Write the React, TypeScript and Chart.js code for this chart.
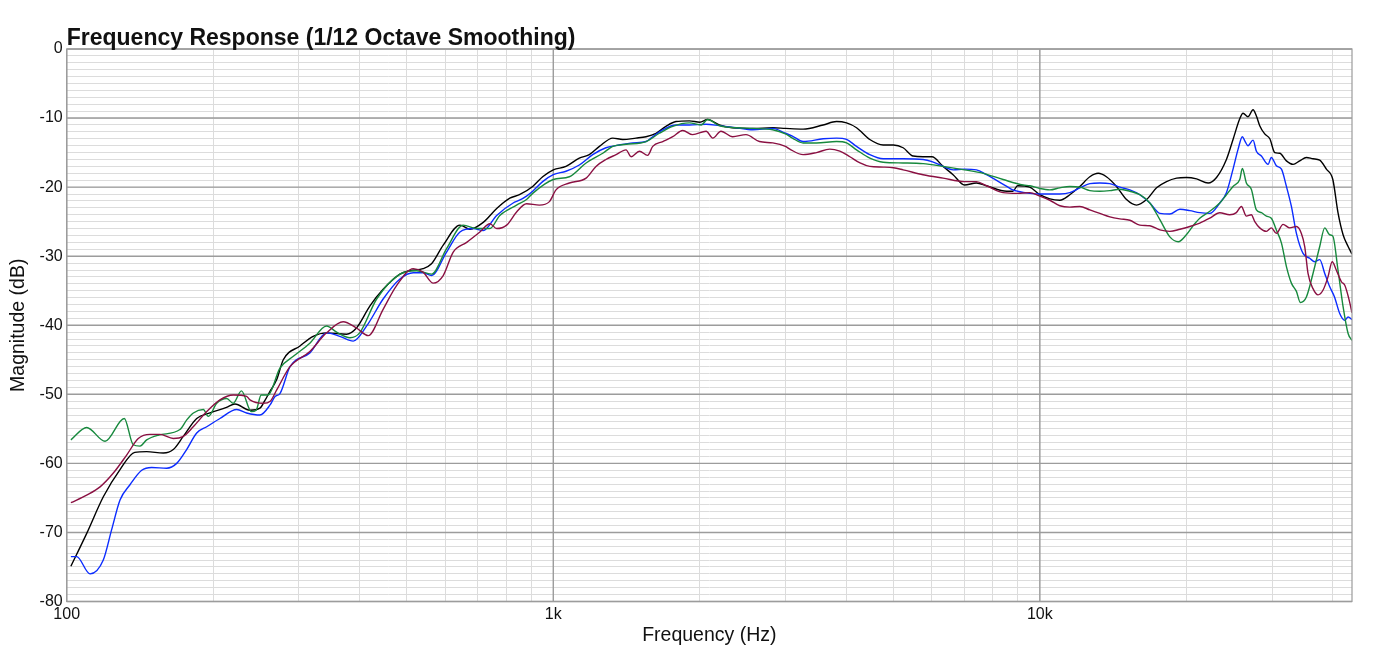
import { useEffect, useRef } from 'react';
import { Chart, registerables } from 'chart.js';

Chart.register(...registerables);

// grid frequencies (Hz) and their labels
const xGridFreqs = [
  100, 200, 300, 400, 500, 600, 700, 800, 900,
  1000, 2000, 3000, 4000, 5000, 6000, 7000, 8000, 9000,
  10000, 20000, 30000, 40000,
];
const xTickLabels: Record<number, string> = { 100: '100', 1000: '1k', 10000: '10k' };
const xMin = 100;
const xMax = 43800;
const yMin = -80;
const yMax = 0;

const blackFreq = [
  102, 110, 119, 128.7, 138, 146, 158, 165.6, 173.6, 185, 197, 213, 221.7, 238, 249.5, 255, 262, 270, 278.7,
  301.6, 321, 342, 376, 394, 420, 447, 484, 507, 540, 562, 594, 643, 674, 718, 765, 814, 852, 907, 951,
  1000, 1062, 1131, 1186, 1244, 1325, 1389, 1479, 1551, 1626, 1704, 1787, 1904, 2000, 2076, 2193, 2337,
  2570, 2825, 3000, 3262, 3586, 3820, 4006, 4200, 4472, 4764, 5000, 5236, 5490, 5754, 6000, 6324, 6632,
  7000, 7407, 7768, 8551, 8800, 9000, 9528, 10000, 10484, 10990, 11524, 12082, 12668, 13180, 13700, 14370,
  15070, 15800, 16570, 17370, 18210, 19100, 20000, 20990, 22170, 23070, 24176, 24946, 25749, 26154, 26779,
  27422, 27860, 28303, 28980, 29690, 30390, 31117, 32114, 33142, 34199, 35296, 36421, 37596, 38801, 40000,
  40990, 41990, 43000, 43800,
];
const blackDb = [
  -74.9, -70.1, -64.8, -60.9, -58.4, -58.3, -58.5, -58.0, -56.1, -53.5, -52.7, -51.9, -51.4, -52.3, -52.0, -51.0, -49.5, -47.9, -45.0,
  -43.0, -41.6, -41.1, -41.3, -40.4, -37.2, -34.8, -32.6, -32.1, -31.8, -31.1, -28.4, -25.5, -26.1, -25.1, -23.1, -21.6, -21.1, -19.9, -18.5,
  -17.5, -17.0, -15.8, -15.3, -14.1, -12.9, -13.1, -12.9, -12.7, -12.2, -11.2, -10.5, -10.4, -10.6, -10.2, -11.0, -11.4,
  -11.5, -11.4, -11.5, -11.6, -11.0, -10.5, -10.7, -11.4, -13.1, -13.9, -13.9, -14.3, -15.5, -15.6, -15.6, -17.0, -18.2,
  -19.7, -19.4, -19.8, -20.6, -20.6, -19.8, -20.0, -21.1, -21.7, -21.9, -21.1, -19.9, -18.5, -18.0, -18.5, -19.9,
  -21.8, -22.6, -21.8, -20.1, -19.2, -18.7, -18.6, -18.8, -19.4, -18.6, -16.0, -13.1, -10.1, -9.3, -9.8,
  -8.8, -9.7, -11.1, -12.3, -13.0, -15.0, -15.1, -16.2, -16.7, -16.2, -15.7, -15.9, -16.1, -17.4, -18.9,
  -23.7, -26.9, -28.6, -29.7,
];

const blueFreq = [
  102, 104.8, 111.7, 118.9, 123.7, 128.7, 134.9, 142.6, 149.5, 160.5, 168.3, 176.4, 185, 194, 206.5, 223.6,
  234.3, 249.5, 262, 268, 274.3, 287.7, 316, 342, 364, 388, 413.5, 447, 484, 515.6, 540, 562, 603.6, 643,
  685, 718, 765, 827, 852, 881, 907, 951, 1000, 1062, 1131, 1205, 1283, 1367, 1457, 1551, 1601, 1679, 1787,
  1904, 2061, 2193, 2375, 2570, 2825, 3000, 3100, 3262, 3586, 3820, 4006, 4200, 4472, 4764, 5236, 5754,
  6000, 6324, 6632, 7000, 7407, 7768, 8551, 8800, 9000, 9528, 10000, 10990, 11524, 12082, 12668, 13282,
  13926, 14600, 15308, 16050, 16828, 17644, 18499, 19396, 20336, 21313, 22345, 23428, 24176, 24946, 25550,
  26070, 26370, 26779, 27422, 27860, 28530, 29440, 29900, 30620, 31370, 32114, 32880, 33670, 34740, 35850,
  36710, 37596, 38500, 39400, 40320, 41326, 42330, 43000, 43800,
];
const blueDb = [
  -73.5, -73.5, -76.0, -74.0, -69.6, -65.3, -63.1, -61.0, -60.6, -60.7, -60.0, -58.0, -55.6, -54.7, -53.5, -52.2,
  -52.7, -53.0, -51.5, -50.3, -49.9, -46.0, -44.0, -41.1, -41.6, -42.3, -40.1, -36.2, -33.3, -32.4, -32.4, -32.8, -29.4, -26.5,
  -26.0, -26.3, -24.1, -22.3, -21.9, -21.3, -20.6, -19.2, -18.2, -17.7, -16.8, -15.3, -14.3, -13.9, -13.6, -13.4, -12.7, -11.7, -11.0,
  -11.0, -10.9, -11.1, -11.4, -11.7, -11.5, -12.2, -12.6, -13.4, -13.0, -12.9, -13.1, -14.1, -15.3, -15.9, -15.9, -16.0,
  -16.3, -17.0, -17.5, -17.4, -17.5, -18.2, -19.9, -20.4, -20.6, -20.9, -21.0, -21.0, -20.8, -20.1, -19.5, -19.4,
  -19.5, -20.0, -20.4, -21.1, -22.3, -23.8, -23.9, -23.2, -23.4, -23.7, -23.8, -22.3, -20.8, -17.4, -14.5,
  -12.7, -13.3, -14.0, -13.2, -14.8, -15.5, -16.7, -15.7, -16.9, -17.4, -19.9, -22.8, -26.7, -29.6, -30.3,
  -30.8, -30.5, -32.5, -34.4, -35.9, -38.3, -39.3, -38.8, -39.2,
];

const greenFreq = [
  102, 109.9, 119.9, 131.3, 137, 141.5, 146, 154.6, 170.9, 176.5, 182.1, 190.9, 195.5, 203.4, 213.2, 219.9,
  228.6, 239.6, 245.1, 251, 259.2, 274.3, 292.3, 316, 342, 358.7, 382, 400, 433.5, 484, 523.6, 562, 603.6,
  653, 695.7, 741, 776.4, 840.6, 881, 907, 1000, 1079, 1168, 1264, 1325, 1411, 1551, 1652, 1760, 1904, 2014,
  2076, 2193, 2375, 2570, 2825, 3000, 3100, 3262, 3475, 3820, 4006, 4200, 4472, 4764, 5236, 5754, 6324, 7000,
  7650, 8403, 9240, 9538, 10000, 10484, 10990, 11524, 12082, 12668, 13282, 13926, 14600, 15308, 16050, 16828,
  17644, 18499, 19250, 20000, 20700, 21313, 22345, 23428, 24176, 24946, 25749, 26070, 26570, 27200, 27860,
  28530, 29213, 29900, 30620, 31370, 32114, 32880, 33670, 34300, 35296, 36421, 37596, 38500, 39400, 40000,
  40990, 41990, 43000, 43800,
];
const greenDb = [
  -56.6, -54.8, -56.8, -53.5, -57.3, -57.5, -56.6, -55.9, -55.1, -53.7, -52.7, -52.2, -53.2, -51.3, -50.6, -51.3,
  -49.5, -52.5, -52.3, -50.1, -50.1, -46.2, -44.5, -42.6, -40.1, -41.0, -41.8, -41.1, -36.2, -32.6, -32.1, -32.6, -28.9,
  -25.5, -26.0, -26.0, -24.1, -22.6, -21.8, -20.9, -18.9, -18.5, -16.5, -15.1, -14.1, -13.8, -13.4, -12.2, -11.2, -10.7, -11.0,
  -10.2, -11.1, -11.4, -11.5, -11.7, -12.3, -12.9, -13.6, -13.6, -13.4, -13.6, -14.6, -15.8, -16.4, -16.5, -16.6, -17.0, -17.5,
  -18.0, -18.9, -19.7, -19.8, -20.2, -20.4, -20.1, -19.9, -20.0, -20.5, -20.6, -20.5, -20.3, -20.6, -21.1, -22.3,
  -24.7, -27.2, -27.9, -26.9, -25.5, -24.5, -23.5, -22.3, -21.1, -19.9, -18.9, -17.3, -19.4, -20.3, -23.3,
  -23.7, -24.2, -24.5, -26.2, -28.1, -31.5, -33.9, -35.1, -36.7, -35.9, -32.5, -28.6, -25.9, -26.9, -27.1,
  -32.0, -37.3, -41.2, -42.2,
];

const redFreq = [
  102, 109.9, 117.1, 124.7, 132.8, 140.3, 148.3, 155.5, 165.6, 173.6, 182, 194, 206.5, 220, 234.3, 238, 253.5,
  262, 270, 287.7, 316, 342, 370, 394, 416.7, 447, 476, 515.6, 540, 566.6, 594, 622.8, 663.7, 706.6, 741, 765,
  802, 840.6, 881, 936, 982, 1013, 1079, 1168, 1224, 1283, 1346, 1411, 1445, 1503, 1563, 1601, 1679, 1760,
  1845, 1934, 2061, 2127, 2211, 2337, 2489, 2652, 2825, 3000, 3063, 3262, 3475, 3700, 3880, 4070, 4270, 4472,
  4764, 5000, 5236, 5754, 6324, 7000, 7407, 7768, 8403, 9000, 9528, 10000, 10484, 10990, 11524, 12082, 12668,
  13282, 13926, 14600, 15308, 16050, 16828, 17644, 18499, 19396, 20336, 21313, 22345, 23428, 24550, 25340,
  25950, 26570, 27200, 27650, 28303, 29213, 29900, 30620, 31610, 32620, 33670, 34470, 35020, 35570, 36421,
  37300, 38200, 39100, 39880, 40660, 41660, 42330, 43130, 43800,
];
const redDb = [
  -65.7, -64.6, -63.4, -61.4, -58.8, -56.4, -55.8, -55.8, -56.4, -56.1, -54.7, -52.5, -50.8, -50.1, -50.3, -50.8, -51.3,
  -51.0, -49.4, -46.0, -43.8, -41.1, -39.5, -40.4, -41.5, -37.7, -34.3, -31.8, -32.3, -33.9, -32.8, -29.4, -28.0, -26.5, -25.3, -26.0,
  -25.5, -23.6, -22.4, -22.6, -22.1, -20.4, -19.4, -18.7, -17.0, -16.0, -15.3, -14.6, -15.6, -14.8, -15.4, -14.1, -13.4, -12.7,
  -11.8, -12.4, -11.9, -12.9, -11.9, -12.7, -12.4, -13.4, -13.6, -14.1, -14.5, -15.3, -15.0, -14.5, -14.8, -15.6, -16.5, -17.0,
  -17.1, -17.2, -17.5, -18.2, -18.7, -19.2, -19.2, -19.8, -20.8, -20.9, -20.8, -21.3, -21.9, -22.7, -22.9, -22.8, -23.3,
  -23.8, -24.3, -24.6, -24.8, -25.5, -25.6, -26.2, -26.4, -26.1, -25.7, -25.2, -24.5, -23.7, -24.0, -23.7,
  -22.8, -24.2, -24.0, -25.0, -25.9, -26.4, -25.9, -26.7, -25.4, -25.9, -25.7, -26.7, -28.6, -32.5, -34.7,
  -35.6, -34.9, -33.0, -30.8, -32.0, -33.7, -34.2, -36.1, -38.2,
];

const FONT = '"Liberation Sans", Arial, Helvetica, sans-serif';
const MAJOR_GRID = '#9c9c9c';
const MINOR_GRID = '#dcdcdc';

const toPoints = (freq: number[], db: number[]) => freq.map((f, i) => ({ x: f, y: db[i] }));
const isDecade = (v: number) => Math.abs(Math.log10(v) - Math.round(Math.log10(v))) < 1e-6;

// major grid redrawn over the minor lines, then frame and title
const framePlugin = {
  id: 'frame',
  beforeDatasetsDraw(chart: Chart) {
    const { ctx, chartArea, scales } = chart;
    ctx.save();
    ctx.strokeStyle = MAJOR_GRID;
    ctx.lineWidth = 1.4;
    ctx.beginPath();
    xGridFreqs.filter(isDecade).forEach((f) => {
      const px = scales.x.getPixelForValue(f);
      ctx.moveTo(px, chartArea.top);
      ctx.lineTo(px, chartArea.bottom);
    });
    for (let v = yMin; v <= yMax; v += 10) {
      const py = scales.y.getPixelForValue(v);
      ctx.moveTo(chartArea.left, py);
      ctx.lineTo(chartArea.right, py);
    }
    ctx.stroke();
    ctx.restore();
  },
  afterDraw(chart: Chart) {
    const { ctx, chartArea } = chart;
    ctx.save();
    ctx.strokeStyle = MAJOR_GRID;
    ctx.lineWidth = 1.2;
    ctx.strokeRect(chartArea.left, chartArea.top, chartArea.right - chartArea.left, chartArea.bottom - chartArea.top);
    ctx.fillStyle = '#111';
    ctx.font = `bold 23px ${FONT}`;
    ctx.textBaseline = 'alphabetic';
    ctx.textAlign = 'left';
    ctx.fillText('Frequency Response (1/12 Octave Smoothing)', chartArea.left, 45);
    ctx.restore();
  },
};

export default function App(): JSX.Element {
  const canvasRef = useRef<HTMLCanvasElement | null>(null);

  useEffect(() => {
    if (!canvasRef.current) return;
    const context = canvasRef.current.getContext('2d');
    if (!context) return;

    const line = (data: { x: number; y: number }[], color: string) => ({
      data,
      borderColor: color,
      backgroundColor: color,
      borderWidth: 1.4,
      pointRadius: 0,
      fill: false,
      cubicInterpolationMode: 'monotone' as const,
    });

    const chart = new Chart(context, {
      type: 'line',
      data: {
        datasets: [
          line(toPoints(redFreq, redDb), '#8a1042'),
          line(toPoints(greenFreq, greenDb), '#17893d'),
          line(toPoints(blueFreq, blueDb), '#0b2cff'),
          line(toPoints(blackFreq, blackDb), '#000000'),
        ],
      },
      options: {
        responsive: true,
        maintainAspectRatio: false,
        animation: false,
        layout: { padding: { top: 49, right: 48, left: 0, bottom: 0 } },
        plugins: {
          legend: { display: false },
          tooltip: { enabled: false },
        },
        scales: {
          x: {
            type: 'logarithmic',
            min: xMin,
            max: xMax,
            afterBuildTicks: (scale) => {
              scale.ticks = xGridFreqs.map((value) => ({ value }));
            },
            afterFit: (scale) => {
              scale.height = 56.5;
            },
            ticks: {
              autoSkip: false,
              maxRotation: 0,
              padding: 3,
              color: '#111',
              font: { family: FONT, size: 16 },
              callback: (value) => xTickLabels[Number(value)] ?? '',
            },
            grid: {
              drawTicks: false,
              color: MINOR_GRID,
              lineWidth: 1,
            },
            border: { display: false },
            title: {
              display: true,
              text: 'Frequency (Hz)',
              color: '#111',
              font: { family: FONT, size: 19.5 },
              padding: { top: 0, bottom: 11 },
            },
          },
          y: {
            type: 'linear',
            min: yMin,
            max: yMax,
            afterFit: (scale) => {
              scale.width = 66.7;
            },
            ticks: {
              stepSize: 1,
              autoSkip: false,
              padding: 4,
              color: '#111',
              font: { family: FONT, size: 16 },
              callback: (value) => (Number(value) % 10 === 0 ? String(value) : ''),
            },
            grid: {
              drawTicks: false,
              color: MINOR_GRID,
              lineWidth: 1,
            },
            border: { display: false },
            title: {
              display: true,
              text: 'Magnitude (dB)',
              color: '#111',
              font: { family: FONT, size: 19.5 },
              padding: { top: 7, bottom: 0 },
            },
          },
        },
      },
      plugins: [framePlugin],
    });

    return () => {
      chart.destroy();
    };
  }, []);

  return (
    <div style={{ position: 'fixed', left: 0, top: 0, width: 1400, height: 658, background: '#fff' }}>
      <canvas ref={canvasRef} />
    </div>
  );
}
